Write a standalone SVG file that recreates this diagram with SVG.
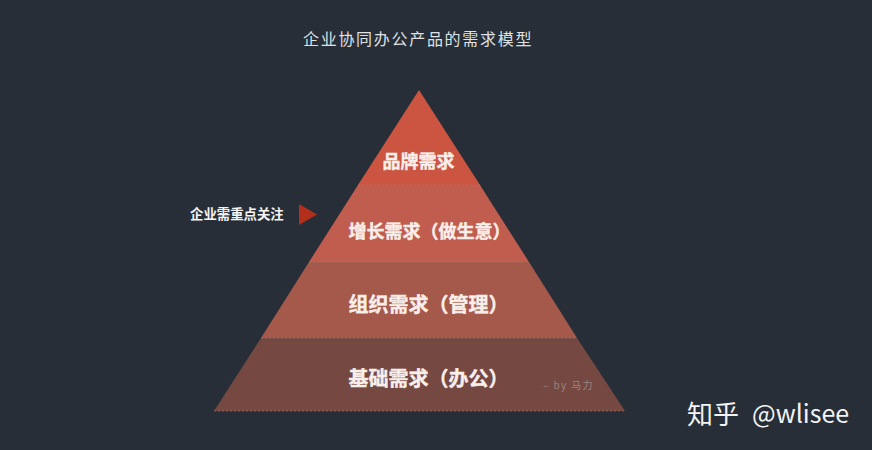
<svg xmlns="http://www.w3.org/2000/svg" width="872" height="450" viewBox="0 0 872 450">
<style>
text{font-family:"Noto Sans CJK SC","Noto Sans",sans-serif}
.tier{font-weight:700;fill:#f8efeb;stroke:#f8efeb;stroke-width:.4}
.sep{stroke:#a8817a;stroke-width:1;stroke-dasharray:2 2;opacity:.55;fill:none}
</style>
<rect id="background" width="872" height="450" fill="#282e37"/>
<text id="title" x="303" y="44.500" font-size="16" letter-spacing="1.7" fill="#dfe1e3">企业协同办公产品的需求模型</text>
<g id="tier-brand">
<polygon points="419,90 480,185 358,185" fill="#cc5541"/>
<text class="tier" x="382.500" y="167.500" font-size="18">品牌需求</text>
</g>
<g id="tier-growth">
<polygon points="358,185 480,185 529,262 309,262" fill="#c05d4e"/>
<text class="tier" x="348.500" y="238" font-size="18">增长需求（做生意）</text>
</g>
<g id="tier-organization">
<polygon points="309,262 529,262 577,338 261,338" fill="#a4594a"/>
<text class="tier" x="348.500" y="312" font-size="20">组织需求（管理）</text>
</g>
<g id="tier-foundation">
<polygon points="261,338 577,338 625,411 214,411" fill="#754842"/>
<text class="tier" x="348.500" y="385.500" font-size="20">基础需求（办公）</text>
<text id="byline" x="543" y="389" font-size="10" letter-spacing="1.4" fill="#9a8580">– by 马力</text>
</g>
<g id="connectors">
<line class="sep" x1="358" y1="185" x2="480" y2="185"/>
<line class="sep" x1="309" y1="262" x2="529" y2="262"/>
<line class="sep" x1="261" y1="338" x2="577" y2="338"/>
<line class="sep" x1="214" y1="411" x2="625" y2="411"/>
</g>
<g id="focus-label">
<text x="190" y="219" font-size="13.400" font-weight="700" fill="#f4f4f4">企业需重点关注</text>
<polygon points="299,204 317,214.500 299,225" fill="#b32e1b"/>
</g>
<g id="watermark" fill="#f2f3f4">
<text x="687" y="424" font-size="26">知乎</text>
<text x="752" y="423" font-size="25">@wlisee</text>
</g>
</svg>
